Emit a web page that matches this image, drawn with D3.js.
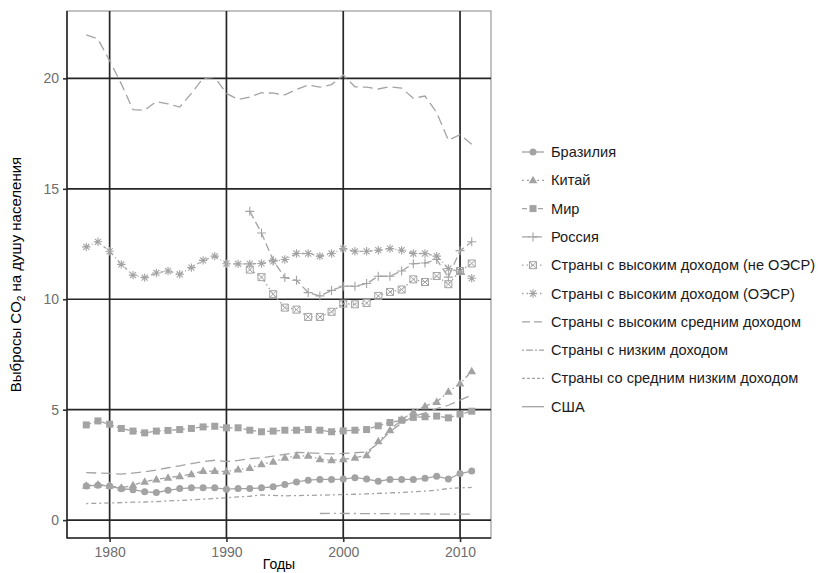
<!DOCTYPE html>
<html>
<head>
<meta charset="utf-8">
<script src="https://cdn.jsdelivr.net/npm/d3@7"></script>
<style>
  body { margin: 0; background: #fff; }
  text { font-family: "Liberation Sans", Arial, sans-serif; }
</style>
</head>
<body>
<svg id="chart" width="818" height="573"></svg>
<script>
// years on the x axis
const years = d3.range(1978, 2012);
const years1992 = d3.range(1992, 2012);
const years1998 = d3.range(1998, 2012);

// CO2 per capita
const brazil = [1.54,1.58,1.54,1.42,1.38,1.28,1.25,1.35,1.43,1.46,1.46,1.46,1.40,1.43,1.43,1.46,1.51,1.61,1.73,1.81,1.84,1.84,1.86,1.92,1.86,1.76,1.84,1.84,1.84,1.89,1.99,1.86,2.11,2.22];
const china = [1.56,1.61,1.55,1.46,1.58,1.74,1.84,1.92,1.99,2.08,2.22,2.22,2.20,2.29,2.36,2.53,2.64,2.82,2.91,2.91,2.76,2.71,2.75,2.82,2.94,3.57,4.07,4.55,4.90,5.16,5.35,5.81,6.18,6.74];
const world = [4.31,4.49,4.34,4.15,4.03,3.95,4.03,4.06,4.10,4.15,4.22,4.25,4.18,4.18,4.07,4.00,4.03,4.07,4.07,4.10,4.07,4.00,4.04,4.07,4.10,4.27,4.42,4.52,4.65,4.68,4.71,4.63,4.80,4.93];
const russia = [13.98,13.00,11.76,10.98,10.86,10.30,10.15,10.40,10.59,10.59,10.71,11.04,11.04,11.28,11.61,11.64,11.80,11.00,12.20,12.60];
const highNonOecd = [11.34,11.00,10.23,9.62,9.53,9.20,9.20,9.43,9.80,9.77,9.83,10.15,10.33,10.44,10.90,10.78,11.05,10.68,11.28,11.62];
const highOecd = [12.37,12.60,12.17,11.58,11.09,10.98,11.19,11.28,11.13,11.43,11.76,11.95,11.61,11.60,11.60,11.62,11.72,11.80,12.07,12.07,11.95,12.07,12.29,12.17,12.17,12.22,12.29,12.22,12.07,12.07,11.95,11.39,11.24,10.95];
const upperMiddle = [2.15,2.13,2.12,2.08,2.13,2.19,2.27,2.37,2.46,2.56,2.65,2.71,2.65,2.70,2.78,2.82,2.90,2.98,3.06,3.05,3.02,3.00,3.02,3.05,3.09,3.47,4.00,4.40,4.68,4.86,5.05,5.20,5.43,5.66];
const lowIncome = [0.30,0.31,0.30,0.30,0.29,0.29,0.29,0.28,0.28,0.28,0.27,0.27,0.27,0.27];
const lowerMiddle = [0.75,0.76,0.78,0.79,0.81,0.82,0.84,0.87,0.89,0.92,0.95,0.98,1.01,1.05,1.08,1.14,1.12,1.10,1.11,1.12,1.13,1.14,1.16,1.17,1.19,1.21,1.23,1.25,1.28,1.31,1.36,1.43,1.46,1.48];
const usa = [21.97,21.78,20.80,19.75,18.58,18.56,18.95,18.85,18.70,19.32,20.00,20.05,19.32,19.05,19.15,19.35,19.33,19.25,19.50,19.70,19.60,19.72,20.15,19.62,19.60,19.52,19.62,19.56,19.10,19.20,18.45,17.20,17.45,17.02];

const xTicks = [1980, 1990, 2000, 2010];
const yTicks = [0, 5, 10, 15, 20];

const seriesNames = ["Бразилия", "Китай", "Мир", "Россия", "Страны с высоким доходом (не ОЭСР)",
  "Страны с высоким доходом (ОЭСР)", "Страны с высоким средним доходом", "Страны с низким доходом",
  "Страны со средним низким доходом", "США"];

const series = [
  { name: seriesNames[0], x: years, y: brazil, dash: null, shape: "circle", legendDash: null },
  { name: seriesNames[1], x: years, y: china, dash: "5,3,1.5,3", shape: "triangle", legendDash: "2,3" },
  { name: seriesNames[2], x: years, y: world, dash: "5,3", shape: "square", legendDash: "5,3" },
  { name: seriesNames[3], x: years1992, y: russia, dash: "8,4", shape: "plus", legendDash: "8,4" },
  { name: seriesNames[4], x: years1992, y: highNonOecd, dash: "1.5,3", shape: "boxx", legendDash: "1.5,3" },
  { name: seriesNames[5], x: years, y: highOecd, dash: "3,3,1,3", shape: "star", legendDash: "1.5,3" },
  { name: seriesNames[6], x: years, y: upperMiddle, dash: "10,5", shape: null, legendDash: "8,4" },
  { name: seriesNames[7], x: years1998, y: lowIncome, dash: "10,4,2,4", shape: null, legendDash: "2,2,7,2" },
  { name: seriesNames[8], x: years, y: lowerMiddle, dash: "2,3,5,3", shape: null, legendDash: "3,2" },
  { name: seriesNames[9], x: years, y: usa, dash: "10,5", shape: null, legendDash: null }
];

const grey = "#a3a3a3";
const svg = d3.select("#chart");

const panel = { left: 67, right: 491, top: 11, bottom: 538 };
const x = d3.scaleLinear().domain([1976.35, 2012.65]).range([panel.left, panel.right]);
const y = d3.scaleLinear().domain([-0.81, 23.05]).range([panel.bottom, panel.top]);

// panel border
svg.append("rect")
  .attr("x", panel.left).attr("y", panel.top)
  .attr("width", panel.right - panel.left).attr("height", panel.bottom - panel.top)
  .attr("fill", "#fff").attr("stroke", "#9a9a9a").attr("stroke-width", 1.2);

// grid
const grid = svg.append("g").attr("stroke", "#262626").attr("stroke-width", 1.7);
grid.selectAll(".gx").data(xTicks).enter().append("line")
  .attr("x1", d => x(d)).attr("x2", d => x(d))
  .attr("y1", panel.top).attr("y2", panel.bottom);
grid.selectAll(".gy").data(yTicks).enter().append("line")
  .attr("x1", panel.left).attr("x2", panel.right)
  .attr("y1", d => y(d)).attr("y2", d => y(d));

// axes
const xAxis = svg.append("g")
  .attr("transform", `translate(0,${panel.bottom})`)
  .call(d3.axisBottom(x).tickValues(xTicks).tickFormat(d3.format("d")).tickSize(4).tickPadding(5));
const yAxis = svg.append("g")
  .attr("transform", `translate(${panel.left},0)`)
  .call(d3.axisLeft(y).tickValues(yTicks).tickSize(4).tickPadding(4));
[xAxis, yAxis].forEach(ax => {
  ax.select(".domain").remove();
  ax.selectAll(".tick line").attr("stroke", "#333").attr("stroke-width", 1.6);
  ax.selectAll(".tick text").attr("fill", "#6e6e6e").attr("font-size", 14)
    .attr("font-family", "'Liberation Sans', Arial, sans-serif");
});
svg.append("line").attr("x1", panel.left).attr("x2", panel.left)
  .attr("y1", panel.top).attr("y2", panel.bottom + 0.5)
  .attr("stroke", "#262626").attr("stroke-width", 1.6);
svg.append("line").attr("x1", panel.left).attr("x2", panel.right)
  .attr("y1", panel.bottom).attr("y2", panel.bottom)
  .attr("stroke", "#262626").attr("stroke-width", 1.6);

// marker drawing
function marker(g, shape, cx, cy) {
  if (!shape) return;
  if (shape === "circle") {
    g.append("circle").attr("cx", cx).attr("cy", cy).attr("r", 3.5).attr("fill", grey);
  } else if (shape === "square") {
    g.append("rect").attr("x", cx - 3.5).attr("y", cy - 3.5).attr("width", 7).attr("height", 7).attr("fill", grey);
  } else if (shape === "triangle") {
    g.append("path").attr("d", `M${cx},${cy - 4.5}L${cx + 4.3},${cy + 3}L${cx - 4.3},${cy + 3}Z`).attr("fill", grey);
  } else if (shape === "plus") {
    g.append("path").attr("d", `M${cx - 4.5},${cy}H${cx + 4.5}M${cx},${cy - 4.5}V${cy + 4.5}`)
      .attr("stroke", grey).attr("stroke-width", 1.1).attr("fill", "none");
  } else if (shape === "star") {
    const r = 4.2, d = r * 0.72;
    g.append("path").attr("d", `M${cx - r},${cy}H${cx + r}M${cx},${cy - r}V${cy + r}M${cx - d},${cy - d}L${cx + d},${cy + d}M${cx - d},${cy + d}L${cx + d},${cy - d}`)
      .attr("stroke", grey).attr("stroke-width", 1.1).attr("fill", "none");
  } else if (shape === "boxx") {
    const r = 3.5;
    g.append("path").attr("d", `M${cx - r},${cy - r}H${cx + r}V${cy + r}H${cx - r}ZM${cx - r},${cy - r}L${cx + r},${cy + r}M${cx - r},${cy + r}L${cx + r},${cy - r}`)
      .attr("stroke", grey).attr("stroke-width", 1).attr("fill", "none");
  }
}

// series
const line = d3.line().x(d => x(d[0])).y(d => y(d[1]));
const plot = svg.append("g");
series.forEach(s => {
  const pts = s.x.map((yr, i) => [yr, s.y[i]]);
  plot.append("path").datum(pts)
    .attr("d", line).attr("fill", "none")
    .attr("stroke", grey).attr("stroke-width", 1.3)
    .attr("stroke-dasharray", s.dash);
  const mg = plot.append("g");
  pts.forEach(p => marker(mg, s.shape, x(p[0]), y(p[1])));
});

// axis titles
svg.append("text").attr("x", (panel.left + panel.right) / 2).attr("y", 569)
  .attr("text-anchor", "middle").attr("font-size", 14).attr("fill", "#000").text("Годы");
const yt = svg.append("text")
  .attr("transform", `translate(21,${(panel.top + panel.bottom) / 2}) rotate(-90)`)
  .attr("text-anchor", "middle").attr("font-size", 15).attr("fill", "#000");
yt.append("tspan").text("Выбросы CO");
yt.append("tspan").attr("font-size", 10).attr("dy", 4).text("2");
yt.append("tspan").attr("dy", -4).text(" на душу населения");

// legend
const legend = svg.append("g").attr("transform", "translate(522,152)");
series.forEach((s, i) => {
  const g = legend.append("g").attr("transform", `translate(0,${i * 28.3})`);
  g.append("line").attr("x1", 0).attr("x2", 22).attr("y1", 0).attr("y2", 0)
    .attr("stroke", grey).attr("stroke-width", 1.3).attr("stroke-dasharray", s.legendDash);
  marker(g, s.shape, 11, 0);
  g.append("text").attr("x", 29).attr("y", 5).attr("font-size", 14.6).attr("fill", "#1a1a1a").text(s.name);
});
</script>
</body>
</html>
